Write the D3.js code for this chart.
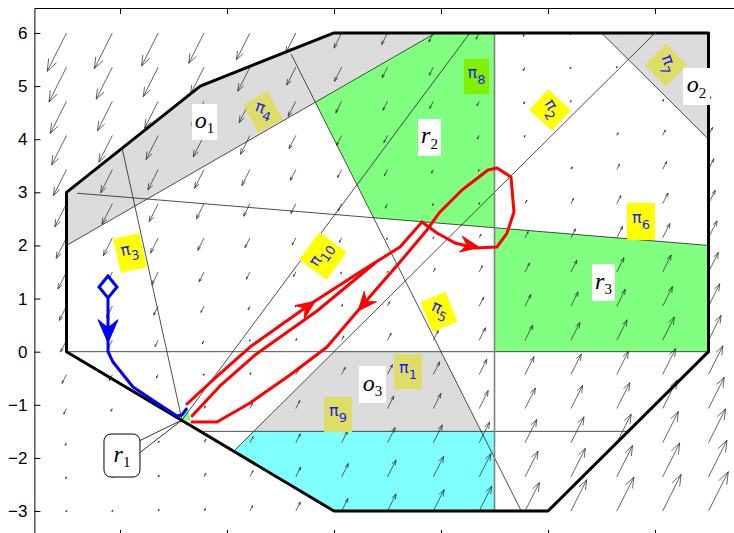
<!DOCTYPE html>
<html>
<head>
<meta charset="utf-8">
<script src="https://cdn.jsdelivr.net/npm/d3@7"></script>
<style>
  body { margin: 0; background: #fff; }
  svg { display: block; }
</style>
</head>
<body>
<svg id="chart" width="734" height="533"></svg>
<script>
// -- AXES --
const yTicks = [-3, -2, -1, 0, 1, 2, 3, 4, 5, 6];
const xTicks = [0, 2, 4, 6, 8, 10];

// -- REGIONS --
const boundary = [[-1, 3], [-1, 0], [4, -3], [8, -3], [11, 0], [11, 6], [4, 6], [1.5, 5]];
const regionO1 = [[-1, 2], [-1, 3], [1.5, 5], [4, 6], [5.9, 6]];
const regionR2 = [[3.65, 4.7], [5.9, 6], [7, 6], [7, 2.333], [4.74, 2.52]];
const regionR3 = [[7, 2.333], [11, 2], [11, 0], [7, 0]];
const regionO2 = [[9, 6], [11, 6], [11, 4]];
const regionO3 = [[2.5, -1.5], [4, 0], [6, 0], [6.75, -1.5]];
const regionCyan = [[2.125, -1.875], [2.5, -1.5], [7, -1.5], [7, -3], [4, -3]];
const regionR1 = [[1.178, -1.136], [1.252, -1.02], [1.327, -1.306], [1.159, -1.268]];

// -- PARTITION LINES --
const cuts = [
  [[-1, 0], [11, 0]],
  [[1.5, -1.5], [9.5, -1.5]],
  [[-0.8, 2.983], [11, 2]],
  [[-1, 2], [5.9, 6]],
  [[1.159, -1.287], [6.54, 6]],
  [[0.04, 3.83], [1.159, -1.287]],
  [[3.2, 5.6], [7.5, -3]],
  [[2.125, -1.875], [10, 6]],
  [[9, 6], [11, 4]]
];
const cutX7 = [[7, 6], [7, -3]];

// -- VECTOR FIELD --
const gridX = [-1, -0.143, 0.714, 1.571, 2.429, 3.286, 4.143, 5, 5.857, 6.714, 7.571, 8.429, 9.286, 10.143, 11];
const gridY = [6, 5.357, 4.714, 4.071, 3.429, 2.786, 2.143, 1.5, 0.857, 0.214, -0.429, -1.071, -1.714, -2.357, -3];
const fieldDir = [0.45, 0.9];
const fieldMag = [
  [-43, -40, -37, -34, -30, -22, -17, -13, -10, -7, -4, -2, -1, -1, 0],
  [-39, -36, -33, -30, -27, -20, -16, -12, -9, -6, -4, -2, -1, 0, 2],
  [-36, -33, -30, -27, -24, -17, -13, -10, -8, -5, -3, -1, 0, 2, 5],
  [-33, -30, -27, -24, -21, -15, -11, -8, -6, -4, -2, 0, 3, 6, 9],
  [-29, -26, -23, -21, -18, -12, -9, -7, -4, -2, 0, 3, 6, 9, 12],
  [-26, -23, -20, -17, -14, -11, -8, -5, -2, 1, 4, 6, 9, 12, 15],
  [-23, -20, -17, -14, -11, -8, -5, -2, 1, 4, 7, 10, 13, 16, 19],
  [-19, -17, -14, -11, -8, -5, -2, 1, 4, 7, 10, 13, 16, 19, 22],
  [-16, -13, -10, -7, -4, -1, 2, 5, 8, 10, 13, 16, 19, 22, 25],
  [-13, -10, -7, -4, -1, 2, 5, 8, 11, 14, 17, 20, 23, 26, 28],
  [-10, -7, -4, -1, 2, 5, 8, 11, 14, 17, 20, 23, 26, 29, 32],
  [-6, -3, 0, 3, 6, 9, 12, 14, 17, 20, 23, 26, 29, 32, 35],
  [-3, 0, 2, 4, 7, 10, 13, 17, 20, 23, 26, 29, 32, 35, 38],
  [-2, 1, 2, 4, 7, 11, 15, 19, 23, 26, 29, 32, 35, 38, 41],
  [-1, 1, 2, 3, 6, 10, 14, 19, 24, 28, 32, 35, 38, 41, 44]
];

// -- TRAJECTORIES --
const redUp = [[1.252, -0.985], [1.776, -0.496], [2.43, 0.088], [3.589, 0.916], [4.486, 1.5], [5.234, 1.971], [5.645, 2.442]];
const redUp2 = [[1.346, -1.211], [1.869, -0.646], [2.523, -0.063], [3.682, 0.766], [4.766, 1.67]];
const redLoop = [[5.645, 2.442], [5.925, 2.234], [6.262, 2.046], [6.636, 1.952], [7.047, 1.971], [7.234, 2.234],
  [7.364, 2.63], [7.308, 3.289], [7.047, 3.458], [6.879, 3.421], [6.393, 3.044], [5.981, 2.63], [5.738, 2.291],
  [5.234, 1.688], [4.617, 0.973], [3.869, 0.088], [3.178, -0.439], [2.43, -0.966], [1.813, -1.324], [1.346, -1.324]];
const bluePath = [[-0.224, 1.0], [-0.224, 0], [-0.131, -0.195], [0.243, -0.665], [0.692, -0.966], [1.065, -1.211], [1.159, -1.192], [1.252, -1.061]];
const blueStart = [-0.224, 1.218];
const redArrows = [
  { tip: [3.65, 0.95], from: [2.43, 0.088] },
  { tip: [4.449, 0.766], from: [5.234, 1.688] },
  { tip: [6.72, 1.96], from: [6.262, 2.046] }
];
const blueArrow = { tip: [-0.224, 0.17], from: [-0.224, 1.0] };

// -- LABELS --
const piLabels = [
  { sub: "1", at: [5.383, -0.373], w: 28, h: 35, rot: 0, tr: 0, fill: "#dede66" },
  { sub: "2", at: [8.037, 4.55], w: 28, h: 31, rot: -47, tr: 60, fill: "#ffff00" },
  { sub: "3", at: [0.187, 1.858], w: 27, h: 35, rot: -13, tr: -10, fill: "#ffff00" },
  { sub: "4", at: [2.673, 4.513], w: 28, h: 32, rot: -28, tr: 20, fill: "#dede66" },
  { sub: "5", at: [5.963, 0.747], w: 27, h: 32, rot: -22, tr: 25, fill: "#ffff00" },
  { sub: "6", at: [9.738, 2.451], w: 28, h: 37, rot: 0, tr: 0, fill: "#ffff00" },
  { sub: "7", at: [10.206, 5.398], w: 30, h: 30, rot: -45, tr: 70, fill: "#dede66" },
  { sub: "8", at: [6.664, 5.181], w: 25, h: 35, rot: 0, tr: 0, fill: "#80f000" },
  { sub: "9", at: [4.075, -1.183], w: 28, h: 35, rot: 0, tr: 0, fill: "#dede66" },
  { sub: "10", at: [3.794, 1.801], w: 34, h: 34, rot: -54, tr: -55, fill: "#ffff00" }
];
const regionLabels = [
  { name: "o", sub: "1", at: [1.579, 4.324], w: 25, h: 36 },
  { name: "r", sub: "2", at: [5.785, 4.033], w: 23, h: 37 },
  { name: "o", sub: "2", at: [10.776, 4.993], w: 27, h: 37 },
  { name: "r", sub: "3", at: [9.037, 1.302], w: 23, h: 37 },
  { name: "o", sub: "3", at: [4.72, -0.618], w: 27, h: 37 }
];
const calloutR1 = { name: "r", sub: "1", at: [0.037, -1.955], w: 36, h: 43, target: [1.159, -1.287] };

// -- SCALES --
const svg = d3.select("#chart");
const x = d3.scaleLinear().domain([-1.6, 11.6]).range([34.4, 740.6]);
const y = d3.scaleLinear().domain([-3.47, 6.47]).range([536, 8]);
const line = d3.line().x(d => x(d[0])).y(d => y(d[1]));
const poly = d => line(d) + "Z";

// -- FILLS --
const fills = [
  [regionO1, "#dcdcdc"], [regionO2, "#dcdcdc"], [regionO3, "#dcdcdc"],
  [regionR2, "#80ff80"], [regionR3, "#80ff80"], [regionCyan, "#80ffff"], [regionR1, "#80ff80"]
];
svg.append("g").selectAll("path").data(fills).enter().append("path")
  .attr("d", d => poly(d[0])).attr("fill", d => d[1]).attr("stroke", "none");

// -- PARTITION LINES --
svg.append("g").selectAll("path").data(cuts).enter().append("path")
  .attr("d", d => line(d)).attr("stroke", "#222").attr("stroke-width", 0.8).attr("fill", "none");
svg.append("path").attr("d", line(cutX7)).attr("stroke", "#808080").attr("stroke-width", 1.6);

// -- QUIVER --
let ux = fieldDir[0] * (x(1) - x(0)), uy = fieldDir[1] * (y(1) - y(0));
let un = Math.hypot(ux, uy);
ux /= un; uy /= un;
const quiver = [];
gridY.forEach((gy, j) => gridX.forEach((gx, k) => quiver.push({ gx, gy, m: fieldMag[j][k] })));
const qg = svg.append("g").attr("stroke", "#222").attr("stroke-width", 0.7).attr("fill", "none");
quiver.filter(d => Math.abs(d.m) >= 1).forEach(d => {
  const sx = x(d.gx), sy = y(d.gy);
  const ex = sx + d.m * ux, ey = sy + d.m * uy;
  const a = Math.atan2(ey - sy, ex - sx);
  const hl = Math.max(2, Math.abs(d.m) * 0.3);
  const b = 0.35;
  qg.append("path").attr("d",
    `M${sx},${sy}L${ex},${ey}` +
    `M${ex - hl * Math.cos(a - b)},${ey - hl * Math.sin(a - b)}L${ex},${ey}` +
    `L${ex - hl * Math.cos(a + b)},${ey - hl * Math.sin(a + b)}`);
});

// -- BOUNDARY --
svg.append("path").attr("d", poly(boundary)).attr("fill", "none")
  .attr("stroke", "#000").attr("stroke-width", 3).attr("stroke-linejoin", "round");

// -- AXES --
const axFont = "Liberation Sans, Arial, sans-serif";
function styleAxis(g) {
  g.selectAll("path,line").attr("stroke", "#000").attr("stroke-width", 1);
  g.selectAll("text").attr("font-family", axFont).attr("font-size", 17).attr("fill", "#000");
}
svg.append("g").attr("transform", `translate(${x(-1.6)},0)`)
  .call(d3.axisLeft(y).tickValues(yTicks).tickSize(-6).tickSizeOuter(0).tickPadding(7)).call(styleAxis);
svg.append("g").attr("transform", `translate(${x(11.6)},0)`)
  .call(d3.axisRight(y).tickValues(yTicks).tickSize(-6).tickSizeOuter(0).tickFormat(() => "")).call(styleAxis);
svg.append("g").attr("transform", `translate(0,${y(6.47)})`)
  .call(d3.axisTop(x).tickValues(xTicks).tickSize(-6).tickSizeOuter(0).tickFormat(() => "")).call(styleAxis);
svg.append("g").attr("transform", `translate(0,${y(-3.47)})`)
  .call(d3.axisBottom(x).tickValues(xTicks).tickSize(-6).tickSizeOuter(0).tickFormat(() => "")).call(styleAxis);

// -- PI LABELS --
const pg = svg.append("g");
piLabels.forEach(p => {
  const g = pg.append("g").attr("transform", `translate(${x(p.at[0])},${y(p.at[1])})`);
  g.append("rect").attr("x", -p.w / 2).attr("y", -p.h / 2).attr("width", p.w).attr("height", p.h)
    .attr("fill", p.fill).attr("transform", `rotate(${p.rot})`);
  const t = g.append("text").attr("transform", `rotate(${p.tr})`).attr("text-anchor", "middle")
    .attr("fill", "#1a1aff").attr("font-family", "DejaVu Sans, sans-serif");
  t.append("tspan").attr("font-size", 16).attr("dy", "0.1em").text("π");
  t.append("tspan").attr("font-size", 13).attr("dy", "0.45em").text(p.sub);
});

// -- REGION LABELS --
function regionText(g, name, sub) {
  const t = g.append("text").attr("text-anchor", "middle").attr("font-family", "Liberation Serif, Times New Roman, serif")
    .attr("fill", "#000");
  t.append("tspan").attr("font-size", 24).attr("font-style", "italic").attr("dy", "0.25em").text(name);
  t.append("tspan").attr("font-size", 15).attr("dy", "0.35em").text(sub);
}
regionLabels.forEach(r => {
  const g = svg.append("g").attr("transform", `translate(${x(r.at[0])},${y(r.at[1])})`);
  g.append("rect").attr("x", -r.w / 2).attr("y", -r.h / 2).attr("width", r.w).attr("height", r.h).attr("fill", "#fff");
  regionText(g, r.name, r.sub);
});

// -- CALLOUT r1 --
{
  const cx = x(calloutR1.at[0]), cy = y(calloutR1.at[1]);
  const tx = x(calloutR1.target[0]), ty = y(calloutR1.target[1]);
  const ex = cx + calloutR1.w / 2;
  svg.append("path").attr("d", `M${ex},${cy - 15}L${tx},${ty}L${ex},${cy - 3}`)
    .attr("fill", "none").attr("stroke", "#000").attr("stroke-width", 0.8);
  const g = svg.append("g").attr("transform", `translate(${cx},${cy})`);
  g.append("rect").attr("x", -calloutR1.w / 2).attr("y", -calloutR1.h / 2).attr("width", calloutR1.w)
    .attr("height", calloutR1.h).attr("rx", 7).attr("fill", "#fff").attr("stroke", "#000").attr("stroke-width", 1);
  regionText(g, calloutR1.name, calloutR1.sub);
}

// -- TRAJECTORIES --
function arrowHead(a, len, hw, color) {
  const tx = x(a.tip[0]), ty = y(a.tip[1]);
  const fx = x(a.from[0]), fy = y(a.from[1]);
  const n = Math.hypot(tx - fx, ty - fy);
  const dx = (tx - fx) / n, dy = (ty - fy) / n;
  const px = -dy, py = dx;
  const bx = tx - len * dx, by = ty - len * dy;
  const nx = tx - 0.65 * len * dx, ny = ty - 0.65 * len * dy;
  svg.append("path")
    .attr("d", `M${tx},${ty}L${bx + hw * px},${by + hw * py}L${nx},${ny}L${bx - hw * px},${by - hw * py}Z`)
    .attr("fill", color).attr("stroke", color).attr("stroke-width", 1);
}
[redUp, redUp2, redLoop].forEach(p => {
  svg.append("path").attr("d", line(p)).attr("fill", "none").attr("stroke", "#ff0000")
    .attr("stroke-width", 3).attr("stroke-linejoin", "round").attr("stroke-linecap", "round");
});
redArrows.forEach(a => arrowHead(a, 19, 8, "#ff0000"));

svg.append("path").attr("d", line(bluePath)).attr("fill", "none").attr("stroke", "#0000ff")
  .attr("stroke-width", 3).attr("stroke-linejoin", "round");
arrowHead(blueArrow, 23, 10, "#0000ff");
{
  const bx = x(blueStart[0]), by = y(blueStart[1]);
  svg.append("path").attr("d", `M${bx},${by - 11}L${bx + 9},${by}L${bx},${by + 11}L${bx - 9},${by}Z`)
    .attr("fill", "#fff").attr("stroke", "#0000ff").attr("stroke-width", 3);
}
</script>
</body>
</html>
